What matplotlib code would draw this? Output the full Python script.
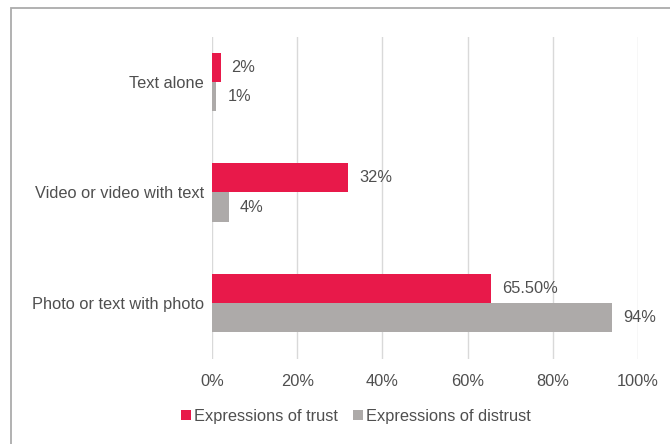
"""
Trust vs distrust expressions by post type, horizontal grouped bars.
"""

import numpy as np
import matplotlib
matplotlib.use('Agg')
import matplotlib.pyplot as plt
from matplotlib.patches import Rectangle

# data
categories = ['Text alone', 'Video or video with text', 'Photo or text with photo']
trust = [2, 32, 65.5]
distrust = [1, 4, 94]
trust_labels = ['2%', '32%', '65.50%']
distrust_labels = ['1%', '4%', '94%']
x_ticks = [0, 20, 40, 60, 80, 100]

trust_color = '#E8194A'
distrust_color = '#ADAAA9'
text_color = '#4F4F4F'
fs = 11.8

plt.rcParams.update({'font.family': ['Liberation Sans', 'DejaVu Sans'],
                     'font.size': fs})

fig = plt.figure(figsize=(6.7, 4.44), dpi=100)
ax = fig.add_axes([212/670, 1 - 359/444, 426/670, (359 - 37)/444])

# grey frame around the chart (left and top edges visible)
fig.patches.append(Rectangle((11/670, -0.05), 1.2, 1 - 8/444 + 0.05,
                             transform=fig.transFigure, fill=False,
                             edgecolor='#ABABAB', linewidth=1.3, zorder=0))

y = np.arange(len(categories))
h = 0.264
ax.barh(y - h/2, trust, height=h, color=trust_color, label='Expressions of trust', zorder=3)
ax.barh(y + h/2, distrust, height=h, color=distrust_color, label='Expressions of distrust', zorder=3)

# value labels
for i in range(len(categories)):
    ax.text(trust[i] + 2.6, y[i] - h/2, trust_labels[i], va='center', ha='left',
            color=text_color, fontsize=fs)
    ax.text(distrust[i] + 2.6, y[i] + h/2, distrust_labels[i], va='center', ha='left',
            color=text_color, fontsize=fs)

ax.set_xlim(0, 100)
ax.set_ylim(len(categories) - 1 + 0.51, -0.41)
ax.set_xticks(x_ticks)
ax.set_xticklabels([str(t) + '%' for t in x_ticks])
ax.set_yticks(y)
ax.set_yticklabels(categories)
ax.tick_params(axis='both', length=0, colors=text_color, labelsize=fs)
ax.tick_params(axis='x', pad=11)
ax.tick_params(axis='y', pad=6)
ax.xaxis.grid(True, color='#D9D9D9', linewidth=1)
for s in ax.spines.values():
    s.set_visible(False)

leg = fig.legend(loc='center', bbox_to_anchor=(356/670, 1 - 416/444), ncol=2,
                 frameon=False, handlelength=0.6, handleheight=0.6,
                 handletextpad=0.2, columnspacing=0.9, fontsize=fs)
for t in leg.get_texts():
    t.set_color(text_color)

fig.savefig('out.png', dpi=100)
